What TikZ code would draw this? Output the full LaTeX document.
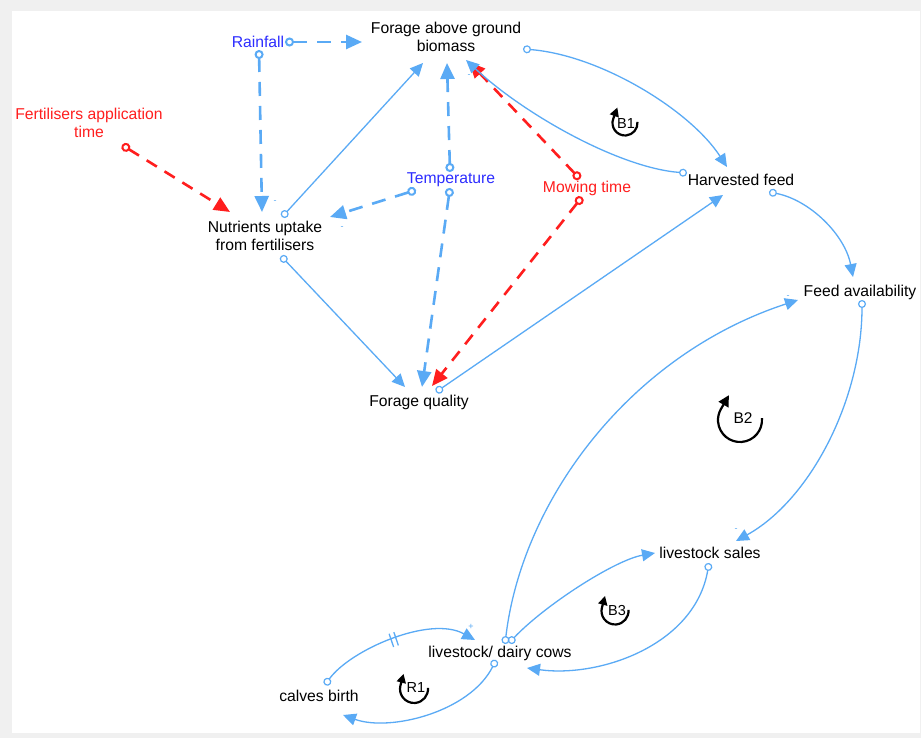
\documentclass[tikz,border=0pt]{standalone}
\usepackage{fontspec}
\setmainfont{Liberation Sans}
\usetikzlibrary{arrows.meta,decorations.markings}
\definecolor{lblue}{RGB}{90,170,245}
\definecolor{vblue}{RGB}{45,45,255}
\definecolor{vred}{RGB}{255,30,30}
\definecolor{framegray}{RGB}{240,240,240}

\begin{document}
\begin{tikzpicture}[x=1pt,y=-1pt,
  var/.style={inner sep=2pt, align=center, font=\fontsize{15.7}{18}\selectfont},
  link/.style={draw=lblue, line width=1.3pt,
    {Circle[open,length=8pt,width=8pt,line width=1.2pt]}-{Triangle[length=13pt,width=12pt]}},
  dlink/.style={draw=lblue, line width=2.6pt, dash pattern=on 14pt off 10pt,
    {Circle[open,length=9pt,width=9pt,line width=2pt]}-{Triangle[length=16pt,width=14pt]}},
  rlink/.style={dlink, draw=vred, dash pattern=on 12pt off 9pt},
  pol/.style={font=\fontsize{9}{9}\selectfont, text=lblue, inner sep=0pt},
  looplbl/.style={font=\fontsize{14.5}{16}\selectfont, inner sep=0pt},
  looparc/.style={draw=black, line width=2.2pt, -{Triangle[length=9pt,width=9pt]}},
  delay/.style={postaction={decorate, decoration={markings,
    mark=at position 0.5 with {\draw[-, solid, draw=lblue, line width=1.3pt]
      (-2.5pt,-7pt) -- (-2.5pt,7pt) (2.5pt,-7pt) -- (2.5pt,7pt);}}}}
]
% frame and canvas
\fill[framegray] (0,0) rectangle (921,738);
\fill[white] (12,11) rectangle (920,733);
\useasboundingbox (0,0) rectangle (921,738);

% variables
\node[var] (fab) at (446,37) {Forage above ground\\biomass};
\node[var, text=vblue] (rain) at (258,42) {Rainfall};
\node[var, text=vred] (fat) at (89,123) {Fertilisers application\\time};
\node[var] (nut) at (265,236) {Nutrients uptake\\from fertilisers};
\node[var, text=vblue] (temp) at (451,180) {Temperature};
\node[var, text=vred] (mow) at (587,188) {Mowing time};
\node[var] (hf) at (741,180) {Harvested feed};
\node[var] (fa) at (860,292) {Feed availability};
\node[var] (fq) at (419,402) {Forage quality};
\node[var] (ls) at (710,553) {livestock sales};
\node[var] (ldc) at (500,653) {livestock/ dairy cows};
\node[var] (cb) at (319,696) {calves birth};

% dashed influences from climate
\draw[dlink] ([shift={(27,0)}]rain.center) -- ([shift={(-84,5)}]fab.center);
\draw[dlink] ([shift={(1,8)}]rain.center) -- ([shift={(-3,-24)}]nut.center);
\draw[dlink] ([shift={(-35,10)}]temp.center) -- ([shift={(65,-19)}]nut.center);
\draw[dlink] ([shift={(-1,-8)}]temp.center) -- ([shift={(1,26)}]fab.center);
\draw[dlink] ([shift={(-1,8)}]temp.center) -- ([shift={(3,-15)}]fq.center);

% dashed management influences
\draw[rlink] ([shift={(-7,-9)}]mow.center) -- ([shift={(23,25)}]fab.center);
\draw[rlink] ([shift={(-5,9)}]mow.center) -- ([shift={(13,-16)}]fq.center);
\draw[rlink] ([shift={(33,22)}]fat.center) -- ([shift={(-35,-24)}]nut.center);

% straight causal links
\draw[link] ([shift={(17,-19)}]nut.center) -- ([shift={(-23,26)}]fab.center);
\draw[link] ([shift={(16,20)}]nut.center) -- ([shift={(-14,-15)}]fq.center);
\draw[link] ([shift={(17,-10)}]fq.center) -- ([shift={(-18,15)}]hf.center);

% curved causal links
\draw[link] ([shift={(77,12)}]fab.center) .. controls (600,55) and (690,110) .. ([shift={(-14,-13)}]hf.center);
\draw[link] ([shift={(-54,-7)}]hf.center) .. controls (620,168) and (525,115) .. ([shift={(20,23)}]fab.center);
\draw[link] ([shift={(28,12)}]hf.center) .. controls (810,200) and (845,235) .. ([shift={(-7,-15)}]fa.center);
\draw[link] ([shift={(2,8)}]fa.center) .. controls (862,400) and (810,500) .. ([shift={(26,-12)}]ls.center);
\draw[link] ([shift={(5,-9)}]ldc.center) .. controls (522,500) and (630,355) .. ([shift={(-62,8)}]fa.center);
\draw[link] ([shift={(9,-10)}]ldc.center) .. controls (545,605) and (615,560) .. ([shift={(-55,0)}]ls.center);
\draw[link] ([shift={(-1,10)}]ls.center) .. controls (695,645) and (600,678) .. ([shift={(27,15)}]ldc.center);
\draw[link] ([shift={(-4,7)}]ldc.center) .. controls (470,712) and (390,732) .. ([shift={(24,19)}]cb.center);
\draw[link, delay] ([shift={(6,-11)}]cb.center) .. controls (350,650) and (430,615) .. ([shift={(-25,-13)}]ldc.center);

% polarity marks
\node[pol] (p1) at (275,202) {-};
\node[pol] (p2) at (342,228) {-};
\node[pol] (p3) at (469,76) {-};
\node[pol] (p4) at (788,297) {-};
\node[pol] (p5) at (736,530) {-};
\node[pol] (p6) at (471,627) {+};

% loop identifiers
\node[looplbl] (b1) at (626,124) {B1};
\node[looplbl, font=\fontsize{15.5}{17}\selectfont] (b2) at (743,418) {B2};
\node[looplbl] (b3) at (617,611) {B3};
\node[looplbl] (r1) at (416,688) {R1};
\draw[looparc] ([shift={(-1,-1)}]b1.center) ++(5:12.5pt) arc[start angle=5, end angle=-200, radius=12.5pt] -- ++(70:12pt);
\draw[looparc, -{Triangle[length=11pt,width=11pt]}] ([shift={(-3,2)}]b2.center) ++(5:22pt) arc[start angle=5, end angle=-210, radius=22pt] -- ++(60:16pt);
\draw[looparc] ([shift={(-2,0)}]b3.center) ++(5:13.5pt) arc[start angle=5, end angle=-195, radius=13.5pt] -- ++(75:12pt);
\draw[looparc] ([shift={(-2,1)}]r1.center) ++(5:14pt) arc[start angle=5, end angle=-195, radius=14pt] -- ++(75:12pt);
\end{tikzpicture}
\end{document}
